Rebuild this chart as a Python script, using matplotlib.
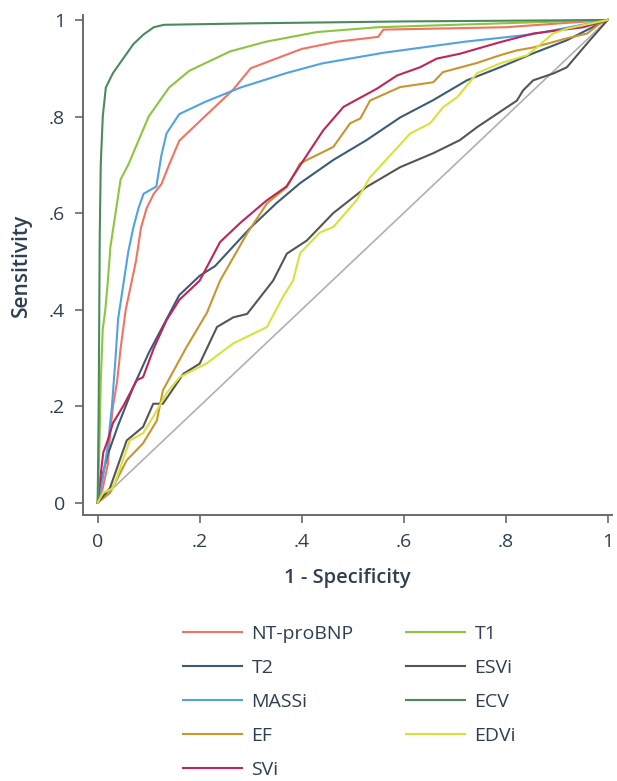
import matplotlib
matplotlib.use("Agg")
import matplotlib.pyplot as plt

plt.rcParams['font.family'] = ['Open Sans', 'DejaVu Sans']

# ROC curves: (1 - specificity, sensitivity)
ntprobnp_x = [0, 0.01, 0.02, 0.025, 0.03, 0.038, 0.045, 0.055, 0.065, 0.075, 0.085, 0.096, 0.11, 0.125,
              0.14, 0.16, 0.18, 0.2, 0.23, 0.265, 0.3, 0.35, 0.4, 0.47, 0.55, 0.56, 0.8, 1]
ntprobnp_y = [0, 0.03, 0.08, 0.15, 0.2, 0.25, 0.32, 0.4, 0.45, 0.5, 0.57, 0.61, 0.64, 0.66,
              0.7, 0.75, 0.77, 0.79, 0.82, 0.855, 0.9, 0.92, 0.94, 0.955, 0.965, 0.98, 0.985, 1]

t2_x = [0, 0.01, 0.02, 0.04, 0.07, 0.1, 0.135, 0.16, 0.2, 0.23, 0.3, 0.35, 0.397, 0.462, 0.527,
        0.593, 0.658, 0.724, 0.789, 0.854, 0.92, 0.985, 1]
t2_y = [0, 0.06, 0.1, 0.16, 0.24, 0.31, 0.38, 0.43, 0.47, 0.49, 0.57, 0.62, 0.662, 0.71, 0.751,
        0.798, 0.834, 0.875, 0.902, 0.931, 0.958, 0.993, 1]

massi_x = [0, 0.01, 0.02, 0.028, 0.035, 0.04, 0.05, 0.06, 0.07, 0.08, 0.09, 0.115, 0.125, 0.135,
           0.16, 0.21, 0.28, 0.37, 0.44, 0.56, 0.72, 0.85, 1]
massi_y = [0, 0.05, 0.12, 0.2, 0.3, 0.38, 0.45, 0.52, 0.57, 0.61, 0.64, 0.655, 0.72, 0.765,
           0.805, 0.83, 0.86, 0.89, 0.91, 0.932, 0.955, 0.97, 1]

ef_x = [0, 0.024, 0.057, 0.089, 0.116, 0.128, 0.174, 0.214, 0.24, 0.293, 0.332, 0.371, 0.397,
        0.462, 0.495, 0.515, 0.534, 0.593, 0.658, 0.677, 0.744, 0.789, 0.822, 0.854, 0.92, 0.96, 0.985, 1]
ef_y = [0, 0.02, 0.088, 0.123, 0.17, 0.233, 0.322, 0.393, 0.46, 0.558, 0.62, 0.654, 0.703,
        0.737, 0.786, 0.796, 0.833, 0.861, 0.871, 0.892, 0.911, 0.927, 0.937, 0.943, 0.962, 0.972, 0.993, 1]

svi_x = [0, 0.005, 0.011, 0.02, 0.03, 0.05, 0.077, 0.089, 0.11, 0.135, 0.16, 0.2, 0.24, 0.28, 0.33,
         0.37, 0.397, 0.442, 0.482, 0.548, 0.587, 0.632, 0.665, 0.71, 0.789, 0.854, 0.952, 1]
svi_y = [0, 0.05, 0.104, 0.13, 0.165, 0.2, 0.254, 0.26, 0.32, 0.378, 0.42, 0.46, 0.54, 0.58, 0.625,
         0.655, 0.699, 0.771, 0.82, 0.858, 0.885, 0.902, 0.92, 0.93, 0.954, 0.972, 0.985, 1]

t1_x = [0, 0.003, 0.006, 0.01, 0.015, 0.02, 0.025, 0.035, 0.045, 0.06, 0.08, 0.1, 0.12, 0.14, 0.18,
        0.22, 0.26, 0.33, 0.43, 0.55, 0.7, 1]
t1_y = [0, 0.1, 0.25, 0.36, 0.4, 0.46, 0.53, 0.6, 0.67, 0.7, 0.75, 0.8, 0.83, 0.86, 0.895,
        0.915, 0.935, 0.955, 0.975, 0.985, 0.99, 1]

esvi_x = [0, 0.024, 0.057, 0.089, 0.109, 0.128, 0.168, 0.2, 0.234, 0.266, 0.293, 0.344, 0.371,
          0.41, 0.462, 0.527, 0.593, 0.658, 0.71, 0.744, 0.822, 0.834, 0.854, 0.893, 0.92, 0.965, 1]
esvi_y = [0, 0.03, 0.129, 0.157, 0.205, 0.205, 0.267, 0.288, 0.364, 0.384, 0.391, 0.46, 0.516,
          0.543, 0.6, 0.654, 0.695, 0.724, 0.751, 0.778, 0.833, 0.854, 0.875, 0.889, 0.902, 0.958, 1]

ecv_x = [0, 0.002, 0.004, 0.006, 0.01, 0.016, 0.03, 0.05, 0.07, 0.09, 0.11, 0.13, 0.3, 0.6, 1]
ecv_y = [0, 0.2, 0.55, 0.7, 0.8, 0.86, 0.89, 0.92, 0.95, 0.97, 0.985, 0.99, 0.993, 0.997, 1]

edvi_x = [0, 0.01, 0.03, 0.063, 0.089, 0.109, 0.135, 0.161, 0.214, 0.266, 0.332, 0.363, 0.383,
          0.397, 0.436, 0.462, 0.508, 0.534, 0.613, 0.652, 0.677, 0.705, 0.744, 0.789, 0.842, 0.854,
          0.893, 0.92, 1]
edvi_y = [0, 0.02, 0.03, 0.129, 0.144, 0.178, 0.227, 0.26, 0.289, 0.33, 0.364, 0.426, 0.46,
          0.517, 0.56, 0.571, 0.627, 0.674, 0.765, 0.786, 0.819, 0.84, 0.89, 0.91, 0.927, 0.937,
          0.972, 0.982, 1]

curves = [
    ("NT-proBNP", ntprobnp_x, ntprobnp_y, "#f47262"),
    ("T2", t2_x, t2_y, "#3c5a7a"),
    ("MASSi", massi_x, massi_y, "#4fa3e0"),
    ("EF", ef_x, ef_y, "#c9952f"),
    ("SVi", svi_x, svi_y, "#c0245a"),
    ("T1", t1_x, t1_y, "#8cc540"),
    ("ESVi", esvi_x, esvi_y, "#555555"),
    ("ECV", ecv_x, ecv_y, "#4b8a5c"),
    ("EDVi", edvi_x, edvi_y, "#d9e13a"),
]

ticks = [0, 0.2, 0.4, 0.6, 0.8, 1]
tick_labels = ["0", ".2", ".4", ".6", ".8", "1"]

fig = plt.figure(figsize=(6.17, 7.81), dpi=100)
ax = fig.add_axes([0.1345, 0.3406, 0.857, 0.640])

text_col = "#2f3f52"
ax.plot([0, 1], [0, 1], color="#b0b0b0", linewidth=1.2, zorder=1)
for name, xs, ys, col in curves:
    ax.plot(xs, ys, color=col, linewidth=1.5, label=name, zorder=2)

ax.set_xlim(-0.0288, 1.008)
ax.set_ylim(-0.0255, 1.01)
ax.set_xticks(ticks)
ax.set_xticklabels(tick_labels)
ax.set_yticks(ticks)
ax.set_yticklabels(tick_labels)
for s in ["top", "right"]:
    ax.spines[s].set_visible(False)
for s in ["left", "bottom"]:
    ax.spines[s].set_color("#6a6a6a")
    ax.spines[s].set_linewidth(1.4)
ax.tick_params(direction="out", length=6, width=1.2, color="#6a6a6a",
               labelsize=14, labelcolor=text_col, pad=7)
ax.set_xlabel("1 - Specificity", fontsize=14.5, fontweight="semibold", color=text_col, labelpad=12)
ax.set_ylabel("Sensitivity", fontsize=15, fontweight="semibold", color=text_col, labelpad=12)

fig.legend(loc="upper left", bbox_to_anchor=(0.2966, 0.2), ncol=2, frameon=False,
           fontsize=14, handlelength=3.05, handletextpad=0.47, columnspacing=2.7,
           labelspacing=0.82, labelcolor=text_col, borderpad=0, borderaxespad=0)

fig.savefig("out.png", dpi=100)
